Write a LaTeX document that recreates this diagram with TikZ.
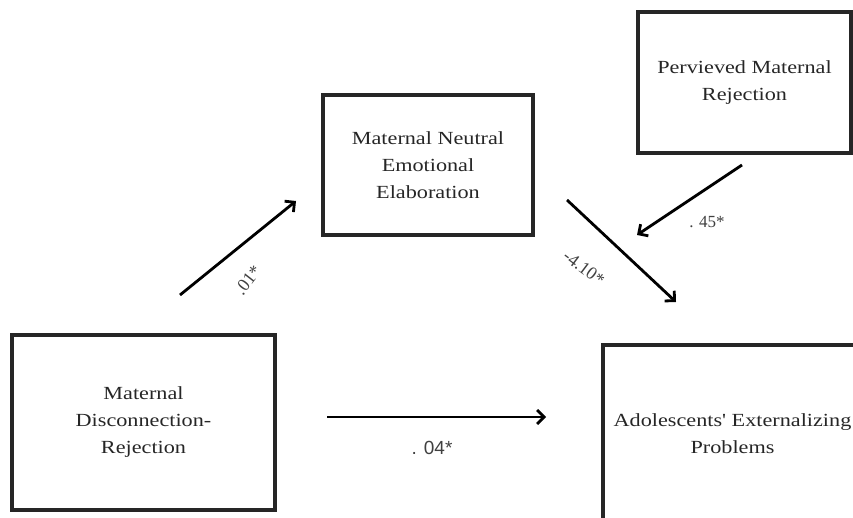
\documentclass[tikz,border=0pt]{standalone}
\usepackage{fontspec}
\setmainfont{Liberation Serif}
\setsansfont{Liberation Sans}
\newfontfamily\boxfont{Liberation Serif}[FakeStretch=1.2]
\usetikzlibrary{arrows.meta}
\tikzset{
	varbox/.style={draw=black!85, line width=3.5pt, align=center, inner sep=0pt,
		font=\boxfont\fontsize{18.5}{27}\selectfont, text=black!85},
	path/.style={line width=2.8pt, -{Straight Barb[length=7pt, width=14pt, line width=2.8pt]}},
	coef/.style={font=\fontsize{18}{21}\selectfont, text=black!75, inner sep=1pt}
}
\begin{document}
\begin{tikzpicture}[x=1pt, y=1pt]
	\useasboundingbox (0,0) rectangle (853,518);
	\clip (0,0) rectangle (853,518);
	\node[varbox, minimum width=263pt, minimum height=175pt] (disc) at (143.5,95.5) {Maternal\\Disconnection-\\Rejection};
	\node[varbox, minimum width=210pt, minimum height=140pt] (neut) at (428,353) {Maternal Neutral\\Emotional\\Elaboration};
	\node[varbox, minimum width=213pt, minimum height=141pt] (perc) at (744.5,435.5) {Pervieved Maternal\\Rejection};
	\node[varbox, minimum width=259pt, minimum height=178pt] (ext) at (732.5,84) {Adolescents' Externalizing\\Problems};
	\coordinate (a1s) at (180,223);
	\coordinate (a1e) at (296,317);
	\coordinate (a2s) at (567,318);
	\coordinate (a2e) at (676,216);
	\coordinate (a3s) at (742,353);
	\coordinate (a3e) at (637,283);
	\coordinate (a4s) at (327,101);
	\coordinate (a4e) at (546,101);
	\draw[path] (a1s) -- (a1e);
	\draw[path] (a2s) -- (a2e);
	\draw[path] (a3s) -- (a3e);
	\draw[path] (a4s) -- (a4e);
	\node[coef, rotate=52] (c1) at (248,238) {.01*};
	\node[coef, rotate=-37] (c2) at (584,250) {-4.10*};
	\node[coef, font=\fontsize{17}{20}\selectfont] (c3) at (707,296) {. 45*};
	\node[coef, font=\sffamily\fontsize{19}{22}\selectfont] (c4) at (432,70) {. 04*};
\end{tikzpicture}
\end{document}
